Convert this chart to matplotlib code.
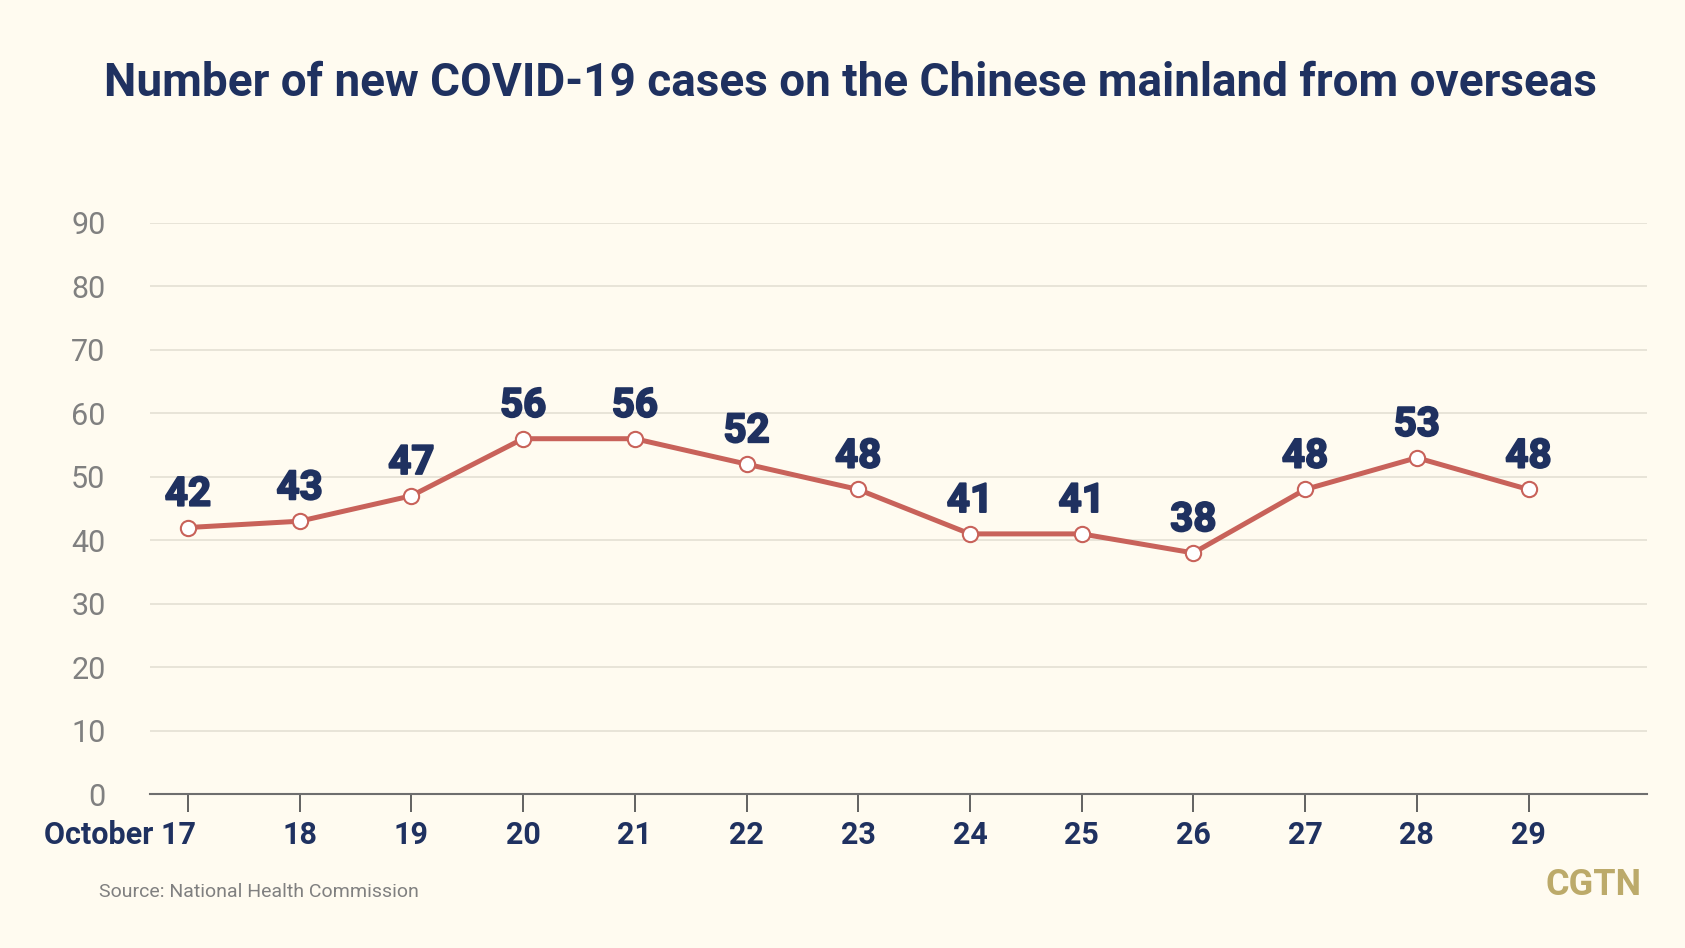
import matplotlib
matplotlib.use("Agg")
import matplotlib.pyplot as plt
import matplotlib.patheffects as pe
from matplotlib.transforms import ScaledTranslation

plt.rcParams['font.family'] = ['Roboto', 'DejaVu Sans']

days = ["October 17", "18", "19", "20", "21", "22", "23", "24", "25", "26", "27", "28", "29"]
cases = [42, 43, 47, 56, 56, 52, 48, 41, 41, 38, 48, 53, 48]
yticks = [0, 10, 20, 30, 40, 50, 60, 70, 80, 90]

bg = "#fffbf0"
navy = "#1f3160"
red = "#c8625a"
gray = "#808080"

fig = plt.figure(figsize=(16.85, 9.48), dpi=100, facecolor=bg)
ax = fig.add_axes([0.089, 0.1624, 0.8884, 0.6024], facecolor=bg)

x = list(range(len(days)))
ax.plot(x, cases, color=red, lw=3.6, marker="o", ms=11, mfc="white",
        mec=red, mew=1.5, zorder=3)

# heavier labels, like the original's black-weight digits
for xi, v in zip(x, cases):
    ax.annotate(str(v), (xi, v), xytext=(0, 10), textcoords="offset points",
                ha="center", va="bottom", fontsize=29, fontweight="bold",
                color=navy, zorder=4,
                path_effects=[pe.withStroke(linewidth=1.4, foreground=navy)])

ax.set_xlim(-0.34, 13.06)
ax.set_ylim(0, 90)
ax.set_yticks(yticks)
ax.set_xticks(x)
ax.set_xticklabels(days)
ax.grid(axis="y", color="#e6e2d6", lw=1.3, zorder=0)
ax.set_axisbelow(True)

for s in ["top", "right", "left"]:
    ax.spines[s].set_visible(False)
ax.spines["bottom"].set_color("#6e6e6e")
ax.spines["bottom"].set_linewidth(1.5)

ax.tick_params(axis="y", length=0, pad=32, labelsize=22, labelcolor=gray)
ax.tick_params(axis="x", length=13, width=1.3, color="#555555", pad=6,
               labelsize=22, labelcolor=navy)
for lab in ax.get_xticklabels():
    lab.set_fontweight("bold")
first = ax.get_xticklabels()[0]
first.set_ha("right")
first.set_transform(first.get_transform() + ScaledTranslation(6 / 72, 0, fig.dpi_scale_trans))

fig.text(0.505, 0.9124, "Number of new COVID-19 cases on the Chinese mainland from overseas",
         ha="center", va="center", fontsize=33, fontweight="bold", color=navy)
fig.text(0.059, 1 - 892 / 948, "Source: National Health Commission",
         ha="left", va="center", fontsize=14, color=gray)
fig.text(0.9745, 1 - 895 / 948, "CGTN", ha="right", va="baseline",
         fontsize=26, fontweight="bold", color="#bcaa6a")

fig.savefig("out.png", dpi=100, facecolor=bg)
